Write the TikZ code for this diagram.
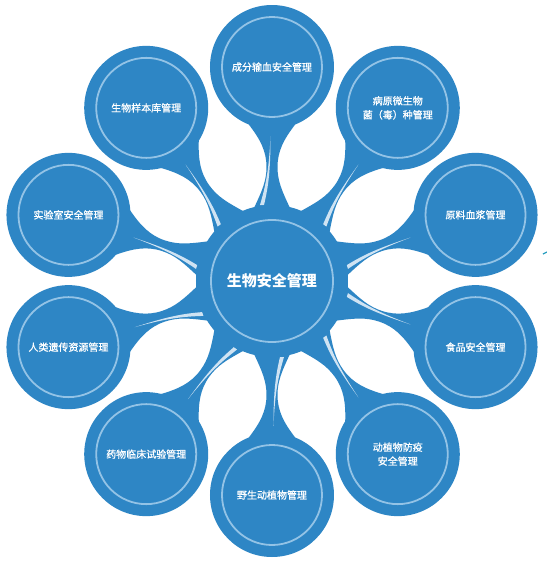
\documentclass[tikz,border=0pt]{standalone}
\usepackage{fontspec}
\newfontfamily\cjk{Noto Sans CJK SC}
\newfontfamily\cjkm[RawFeature={embolden=1.0}]{Noto Sans CJK SC}
\usetikzlibrary{backgrounds}
\definecolor{mainblue}{HTML}{2E86C5}
\definecolor{ringblue}{HTML}{93C3E6}
\definecolor{hlblue}{HTML}{CFE3F3}
\definecolor{tealmark}{HTML}{2A9FC0}
\begin{document}
\begin{tikzpicture}[x=1pt,y=1pt,
  ring/.style={draw=ringblue,line width=1.8pt},
  ball/.style={circle,fill=mainblue,minimum size=124pt,inner sep=0pt,
    text=white,align=center,font=\cjkm\fontsize{10}{14}\selectfont,
    path picture={\draw[ring] (path picture bounding box.center) circle (50pt);}},
  hub/.style={circle,fill=mainblue,minimum size=152pt,inner sep=0pt,
    text=white,font=\cjk\bfseries\fontsize{15}{18}\selectfont,
    path picture={\draw[ring] (path picture bounding box.center) circle (61pt);}},
  neck/.style={fill=mainblue},
  shine/.style={fill=hlblue}]
\useasboundingbox (-272,-285) rectangle (275,281);
\node[hub] (c) at (0,0) {生物安全管理};
\foreach \i/\a/\t in {1/90/成分输血安全管理,
  2/54/{病原微生物\\菌（毒）种管理},
  3/18/原料血浆管理,
  4/-18/食品安全管理,
  5/-54/{动植物防疫\\安全管理},
  6/-90/野生动植物管理,
  7/-126/药物临床试验管理,
  8/-162/人类遗传资源管理,
  9/162/实验室安全管理,
  10/126/生物样本库管理}{
  \node[ball] (o\i) at (\a:214) {\t};
}
\draw[tealmark,line width=1.2pt] (271,27) -- (275,29);
\begin{pgfonlayer}{background}
\fill[white] (-272,-285) rectangle (275,281);
\foreach \i/\a/\s in {1/90/1,2/54/-1,3/18/-1,4/-18/1,5/-54/1,6/-90/1,7/-126/1,8/-162/1,9/162/1,10/126/1}{
  \begin{scope}[shift={(c.center)},rotate=\a]
    \fill[neck] (72.8,18.1) .. controls (90,10) and (100,5.5) .. (114,5.5)
      .. controls (130,5.5) and (142,12) .. (156.5,23.2) -- (170,0)
      -- (156.5,-23.2) .. controls (142,-12) and (130,-5.5) .. (114,-5.5)
      .. controls (100,-5.5) and (90,-10) .. (72.8,-18.1) -- (60,0) -- cycle;
    \begin{scope}[yscale=\s]
      \fill[shine] (76,8) .. controls (95,3.5) and (110,1.5) .. (145,1.5)
        .. controls (110,3) and (95,6.5) .. (76,12) -- cycle;
    \end{scope}
  \end{scope}
}
\end{pgfonlayer}
\end{tikzpicture}
\end{document}
